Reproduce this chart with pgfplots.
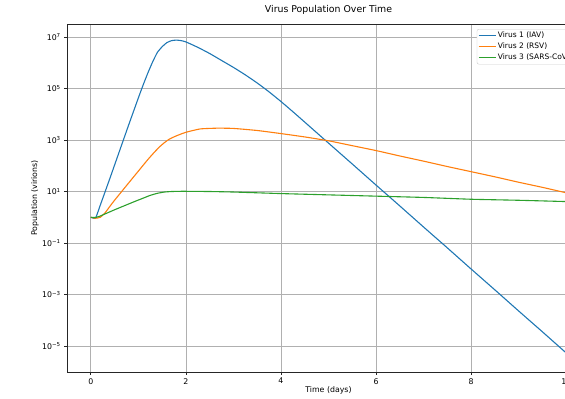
\documentclass[border=0pt]{standalone}
\usepackage{fontspec}
\setmainfont{DejaVu Sans}
\usepackage{pgfplots}
\pgfplotsset{compat=1.18}
\definecolor{c0}{HTML}{1F77B4}
\definecolor{c1}{HTML}{FF7F0E}
\definecolor{c2}{HTML}{2CA02C}
\definecolor{gridc}{HTML}{B0B0B0}
\definecolor{legc}{HTML}{CCCCCC}
\begin{document}
\begin{tikzpicture}
\begin{axis}[
  at={(0,0)}, anchor=south west,
  width=523bp, height=348bp, scale only axis,
  xmin=-0.5, xmax=10.5, ymin=9.8e-7, ymax=3.2e7,
  ymode=log, log basis y=10,
  xtick={0,2,4,6,8,10},
  ytick={1e-5,1e-3,1e-1,1e1,1e3,1e5,1e7},
  yticklabels={10\textsuperscript{−5},10\textsuperscript{−3},10\textsuperscript{−1},10\textsuperscript{1},10\textsuperscript{3},10\textsuperscript{5},10\textsuperscript{7}},
  minor ytick={},
  grid=major,
  major grid style={gridc, line width=0.6bp},
  axis line style={black!85, line width=0.6bp},
  tick style={black!85, line width=0.6bp},
  major tick length=2.75bp,
  tick align=outside, tick pos=left,
  /pgf/number format/assume math mode=true,
  ticklabel style={font=\fontsize{7.85}{9}\selectfont},
  title={Virus Population Over Time},
  title style={font=\fontsize{9.4}{11}\selectfont, at={(axis description cs:0.5,1.024)}, anchor=center, yshift=0pt},
  xlabel={Time (days)},
  ylabel={Population (virions)},
  every axis x label/.style={at={(axis description cs:0.5,-0.052)}, anchor=center, font=\fontsize{7.85}{9}\selectfont},
  every axis y label/.style={at={(axis description cs:-0.0612,0.5)}, rotate=90, anchor=center, font=\fontsize{7.85}{9}\selectfont},
  legend style={at={(rel axis cs:0.7835,1)}, anchor=north west, yshift=-5bp,
    draw=legc, rounded corners=2bp, fill=white, inner sep=1bp,
    font=\fontsize{7.55}{9}\selectfont,
    nodes={inner sep=1.8bp, text height=5.8bp, text depth=1.6bp}},
  legend cell align=left,
]
\addplot[c0, line width=1.1bp, smooth, tension=0.3] coordinates {
(0,1) (0.1,0.933) (0.2,2.95) (0.4,31.6) (0.6,355) (0.8,3981) (1.0,4.27e4) (1.1,1.35e5)
(1.2,3.98e5) (1.3,1.07e6) (1.4,2.51e6) (1.5,4.17e6) (1.6,6.03e6) (1.7,7.24e6) (1.8,7.59e6)
(1.9,7.24e6) (2.0,6.46e6) (2.25,3.98e6) (2.5,2.29e6) (2.75,1.23e6) (3.0,6.61e5)
(3.25,3.39e5) (3.5,1.64e5) (3.75,7.41e4) (4.0,3.13e4) (4.25,1.26e4) (4.5,4955)
(5.0,759) (5.5,117) (6.0,17.8) (6.5,2.75) (7.0,0.417) (7.5,0.0646) (8.0,0.00977)
(8.5,0.00151) (9.0,2.29e-4) (9.5,3.55e-5) (10,5.37e-6)
};
\addlegendentry{Virus 1 (IAV)}
\addplot[c1, line width=1.1bp, smooth, tension=0.3] coordinates {
(0,1) (0.1,0.912) (0.2,1.0) (0.3,1.48) (0.4,2.63) (0.5,4.57) (0.65,10) (0.8,21.9)
(1.0,61.7) (1.2,174) (1.34,339) (1.45,550) (1.55,794) (1.65,1072) (1.76,1349) (1.88,1660)
(2.0,1995) (2.3,2692) (2.66,2884) (3.0,2818) (3.5,2344) (4.0,1778) (4.5,1318) (5.0,933) (5.5,603)
(6.0,389) (6.5,240) (7.0,151) (7.5,93.3) (8.0,58.9) (8.5,37.2) (9.0,22.9) (9.5,14.5) (10,8.91)
};
\addlegendentry{Virus 2 (RSV)}
\addplot[c2, line width=1.1bp, smooth, tension=0.3] coordinates {
(0,1) (0.1,0.977) (0.2,1.12) (0.5,1.95) (0.92,4.07) (1.1,5.5) (1.25,7.08) (1.4,8.51)
(1.55,9.55) (1.7,10.0) (1.9,10.2) (2.0,10.2) (2.5,10.0) (3.0,9.55) (4.0,8.32) (5.0,7.41)
(6.0,6.61) (7.0,5.89) (8.0,5.01) (9.0,4.57) (10,4.07)
};
\addlegendentry{Virus 3 (SARS-CoV-2)}
\end{axis}
\pgfresetboundingbox
\path[use as bounding box] (-67bp,-27bp) rectangle (498bp,372bp);
\end{tikzpicture}
\end{document}
